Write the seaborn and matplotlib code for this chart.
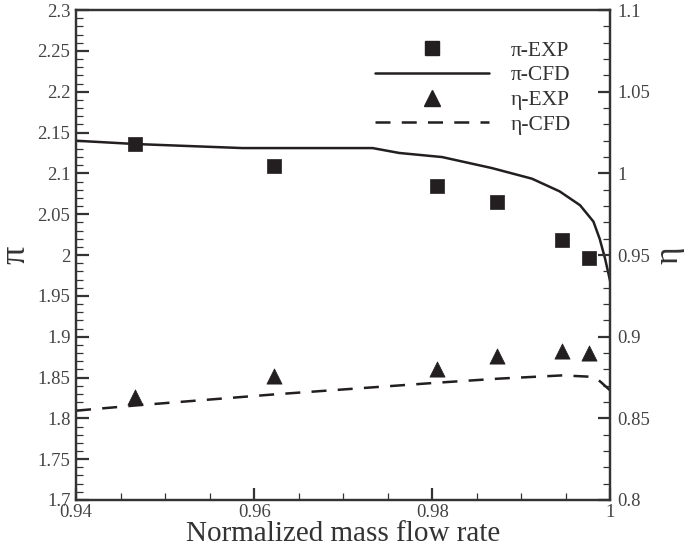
import numpy as np
import pandas as pd
import matplotlib
matplotlib.use("Agg")
import matplotlib.pyplot as plt
import seaborn as sns
from matplotlib.ticker import MultipleLocator, FuncFormatter
from matplotlib.lines import Line2D

# experimental points
x_exp = [0.9466, 0.9622, 0.9805, 0.9873, 0.9946, 0.9976]
pi_exp = [2.136, 2.109, 2.085, 2.065, 2.019, 1.996]
eta_exp = [0.863, 0.876, 0.880, 0.888, 0.891, 0.890]

# CFD curves
x_pi_cfd = [0.94, 0.9466, 0.9587, 0.9733, 0.9763, 0.9811, 0.9867, 0.9912,
            0.9943, 0.9966, 0.9981, 0.9988, 0.9994, 1.0]
pi_cfd = [2.140, 2.136, 2.131, 2.131, 2.125, 2.120, 2.1065, 2.0935,
          2.078, 2.061, 2.041, 2.020, 1.996, 1.967]

x_eta_cfd = [0.94, 0.9465, 0.9621, 0.9805, 0.9874, 0.9946, 0.9977, 0.9985, 0.9989, 1.0]
eta_cfd = [0.8547, 0.8578, 0.8646, 0.8718, 0.8743, 0.8763, 0.8755, 0.874, 0.8724, 0.867]

x_ticks = [0.94, 0.96, 0.98, 1.0]
x_tick_labels = ["0.94", "0.96", "0.98", "1"]

ink = "#231f20"

sns.set_theme(style="ticks")
plt.rcParams["font.family"] = ["Liberation Serif", "DejaVu Serif"]

fig = plt.figure(figsize=(6.85, 5.48), dpi=100)
ax = fig.add_axes([0.111, 0.0876, 0.780, 0.894])
ax2 = ax.twinx()

sns.lineplot(x=x_pi_cfd, y=pi_cfd, ax=ax, color=ink, lw=1.8, sort=False)
sns.scatterplot(x=x_exp, y=pi_exp, ax=ax, marker="s", s=110, color=ink,
                edgecolor=ink, linewidth=0.5, zorder=5)

sns.lineplot(x=x_eta_cfd, y=eta_cfd, ax=ax2, color=ink, lw=1.8, sort=False,
             dashes=False, linestyle=(0, (6, 4.5)))
sns.scatterplot(x=x_exp, y=eta_exp, ax=ax2, marker="^", s=120, color=ink,
                edgecolor=ink, linewidth=0.5, zorder=5)

ax.set_xlim(0.94, 1.0)
ax.set_ylim(1.7, 2.3)
ax2.set_ylim(0.8, 1.1)

ax.set_xticks(x_ticks)
ax.set_xticklabels(x_tick_labels)
ax.xaxis.set_minor_locator(MultipleLocator(0.005))
ax.yaxis.set_major_locator(MultipleLocator(0.05))
ax.yaxis.set_minor_locator(MultipleLocator(0.01))
ax2.yaxis.set_major_locator(MultipleLocator(0.05))
ax2.yaxis.set_minor_locator(MultipleLocator(0.01))
fmt = FuncFormatter(lambda v, p: f"{v:.2f}".rstrip("0").rstrip("."))
ax.yaxis.set_major_formatter(fmt)
ax2.yaxis.set_major_formatter(fmt)

for a in (ax, ax2):
    for sp in a.spines.values():
        sp.set_color("#333333")
        sp.set_linewidth(1.6)
    a.tick_params(which="both", direction="in", colors="#333333",
                  labelcolor="#444444", labelsize=13.5)
    a.tick_params(which="major", length=9, width=1.6)
    a.tick_params(which="minor", length=5, width=0.9)
ax.tick_params(axis="x", which="both", top=False, pad=3)
ax.tick_params(axis="y", which="both", right=False, pad=4)
ax2.tick_params(axis="y", which="both", left=False, pad=5)

ax.set_xlabel("Normalized mass flow rate", fontsize=21, color="#333333", labelpad=0)
ax.set_ylabel("π", fontsize=26, color="#333333", rotation=90, labelpad=4)
ax2.set_ylabel("η", fontsize=24, color="#333333", rotation=90, labelpad=3)

handles = [
    Line2D([], [], marker="s", color=ink, ls="none", markersize=10),
    Line2D([], [], color=ink, lw=1.8),
    Line2D([], [], marker="^", color=ink, ls="none", markersize=11),
    Line2D([], [], color=ink, lw=1.8, linestyle=(0, (6, 4.5))),
]
labels = ["π-EXP", "π-CFD", "η-EXP", "η-CFD"]
leg = ax.legend(handles, labels, loc="upper right", bbox_to_anchor=(0.946, 0.96),
                frameon=False, fontsize=15.5, handlelength=5.3, handletextpad=1.0,
                labelspacing=0.22, borderpad=0)
for t in leg.get_texts():
    t.set_color("#333333")

fig.savefig("out.png", dpi=100)
